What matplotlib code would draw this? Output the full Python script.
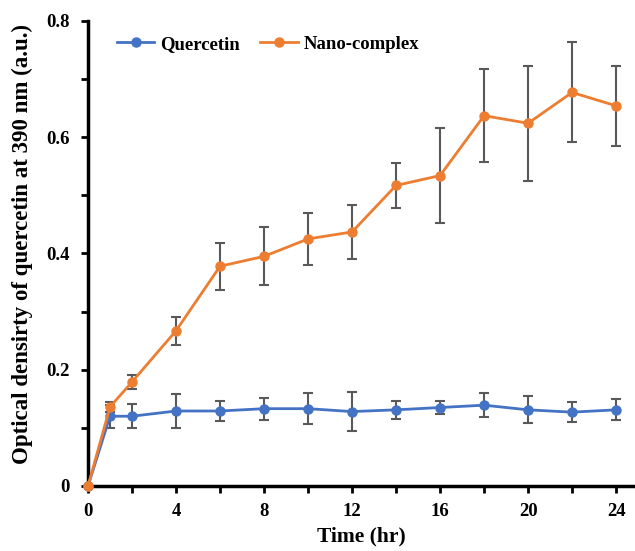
import matplotlib.pyplot as plt
from matplotlib.ticker import MultipleLocator

plt.rcParams['font.family'] = ['Liberation Serif', 'DejaVu Serif']
plt.rcParams['font.weight'] = 'bold'

# Data
time_hr = [0, 1, 2, 4, 6, 8, 10, 12, 14, 16, 18, 20, 22, 24]
quercetin = [0, 0.120, 0.120, 0.129, 0.129, 0.133, 0.133, 0.128, 0.131, 0.135, 0.139, 0.131, 0.127, 0.131]
quercetin_err = [0, 0.020, 0.021, 0.029, 0.018, 0.019, 0.027, 0.033, 0.016, 0.011, 0.021, 0.023, 0.017, 0.018]
nano = [0, 0.136, 0.179, 0.267, 0.378, 0.395, 0.425, 0.437, 0.517, 0.534, 0.637, 0.624, 0.677, 0.654]
nano_err = [0, 0.008, 0.012, 0.024, 0.040, 0.050, 0.044, 0.047, 0.038, 0.081, 0.080, 0.099, 0.086, 0.069]

fig = plt.figure(figsize=(6.35, 5.51), dpi=100)
ax = fig.add_axes([0.1386, 0.118, 0.8614, 0.844])

ax.errorbar(time_hr, quercetin, yerr=quercetin_err, color='#4472C4', marker='o',
            markersize=6.5, linewidth=2, ecolor='#595959', elinewidth=1.5,
            capsize=3.5, capthick=1.5, label='Quercetin', zorder=3)
ax.errorbar(time_hr, nano, yerr=nano_err, color='#ED7D31', marker='o',
            markersize=6.5, linewidth=2, ecolor='#595959', elinewidth=1.5,
            capsize=3.5, capthick=1.5, label='Nano-complex', zorder=3)

ax.set_xlim(0, 24.86)
ax.set_ylim(0, 0.8)
ax.xaxis.set_major_locator(MultipleLocator(4))
ax.xaxis.set_minor_locator(MultipleLocator(2))
ax.yaxis.set_minor_locator(MultipleLocator(0.1))
ax.set_yticks([0, 0.2, 0.4, 0.6, 0.8])
ax.set_yticklabels(['0', '0.2', '0.4', '0.6', '0.8'])
ax.tick_params(which='both', direction='out', length=5, width=2, labelsize=13.5)
ax.tick_params(axis='x', pad=7)
ax.tick_params(axis='y', pad=8)

for side in ['top', 'right']:
    ax.spines[side].set_visible(False)
for side in ['left', 'bottom']:
    ax.spines[side].set_linewidth(2.5)

ax.set_xlabel('Time (hr)', fontsize=15.5, fontweight='bold', labelpad=5)
ax.set_ylabel('Optical densirty of quercetin at 390 nm (a.u.)', fontsize=16.5,
              fontweight='bold')
ax.yaxis.set_label_coords(-0.10, 0.52)

handles, labels = ax.get_legend_handles_labels()
handles = [h[0] for h in handles]
ax.legend(handles, labels, loc='upper left', bbox_to_anchor=(0.022, 1.005), ncol=2,
          frameon=False, handlelength=2.0, handletextpad=0.3, columnspacing=1.1,
          prop={'weight': 'bold', 'size': 13.5})

for line in ax.lines:
    line.set_clip_on(False)

fig.savefig('out.png', dpi=100)
